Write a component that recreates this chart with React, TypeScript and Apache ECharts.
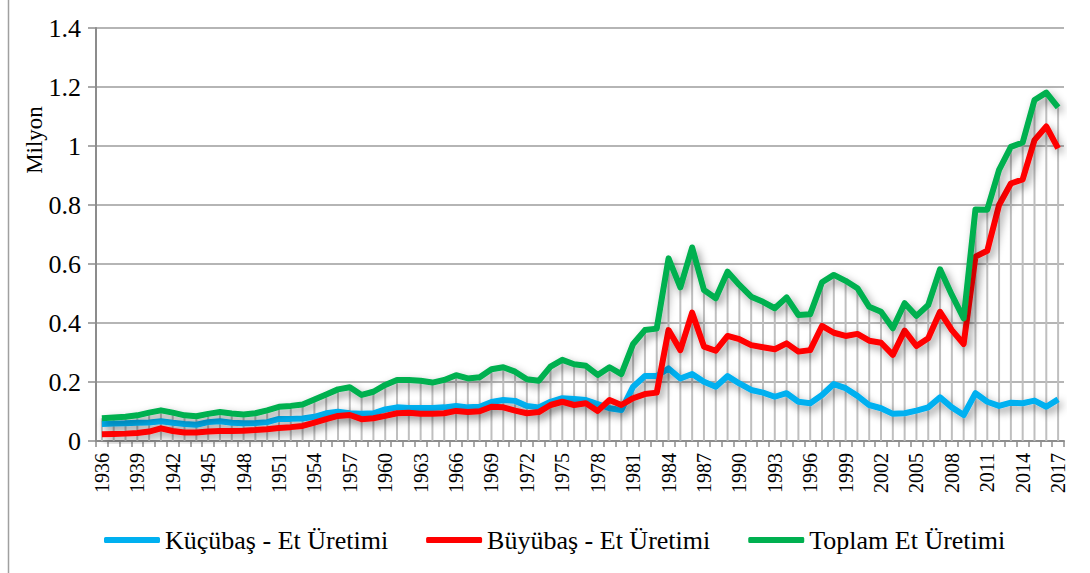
import React, { useEffect, useRef } from "react";
import * as echarts from "echarts";

const years: string[] = [];
for (let y = 1936; y <= 2017; y++) years.push(String(y));

const kucukbas = [
  0.058, 0.059, 0.060, 0.062, 0.063, 0.067, 0.062, 0.058, 0.055, 0.064,
  0.067, 0.062, 0.060, 0.061, 0.064, 0.075, 0.075, 0.076, 0.082, 0.094,
  0.099, 0.094, 0.092, 0.094, 0.107, 0.114, 0.112, 0.112, 0.112, 0.114,
  0.119, 0.114, 0.116, 0.132, 0.139, 0.136, 0.119, 0.114, 0.133, 0.145,
  0.142, 0.139, 0.125, 0.111, 0.105, 0.184, 0.220, 0.220, 0.246, 0.212,
  0.227, 0.201, 0.184, 0.220, 0.195, 0.173, 0.164, 0.150, 0.162, 0.133,
  0.128, 0.156, 0.193, 0.179, 0.153, 0.122, 0.111, 0.092, 0.094, 0.103,
  0.114, 0.148, 0.114, 0.088, 0.162, 0.133, 0.119, 0.130, 0.128, 0.137,
  0.116, 0.141,
];

const buyukbas = [
  0.023, 0.024, 0.025, 0.027, 0.032, 0.043, 0.034, 0.029, 0.029, 0.032,
  0.034, 0.034, 0.035, 0.037, 0.040, 0.044, 0.047, 0.051, 0.062, 0.074,
  0.085, 0.088, 0.074, 0.077, 0.085, 0.094, 0.096, 0.092, 0.092, 0.094,
  0.102, 0.098, 0.101, 0.116, 0.114, 0.103, 0.094, 0.098, 0.122, 0.133,
  0.122, 0.128, 0.102, 0.139, 0.122, 0.145, 0.159, 0.164, 0.376, 0.308,
  0.435, 0.320, 0.306, 0.356, 0.345, 0.325, 0.318, 0.311, 0.331, 0.303,
  0.308, 0.390, 0.367, 0.356, 0.363, 0.340, 0.333, 0.292, 0.374, 0.322,
  0.348, 0.438, 0.376, 0.329, 0.625, 0.645, 0.800, 0.873, 0.887, 1.020,
  1.066, 0.992,
];

const toplam = [
  0.077, 0.080, 0.082, 0.087, 0.096, 0.104, 0.096, 0.087, 0.084, 0.092,
  0.098, 0.093, 0.090, 0.094, 0.104, 0.116, 0.119, 0.124, 0.141, 0.158,
  0.175, 0.182, 0.156, 0.167, 0.190, 0.207, 0.207, 0.204, 0.198, 0.207,
  0.223, 0.212, 0.216, 0.243, 0.250, 0.235, 0.209, 0.204, 0.252, 0.275,
  0.260, 0.255, 0.224, 0.250, 0.227, 0.329, 0.376, 0.381, 0.619, 0.521,
  0.656, 0.512, 0.484, 0.574, 0.529, 0.489, 0.472, 0.450, 0.487, 0.427,
  0.430, 0.538, 0.563, 0.543, 0.518, 0.455, 0.438, 0.382, 0.467, 0.424,
  0.461, 0.582, 0.495, 0.416, 0.785, 0.784, 0.919, 0.997, 1.012, 1.156,
  1.181, 1.131,
];

const seriesNames = ["Küçübaş - Et Üretimi", "Büyübaş - Et Üretimi", "Toplam Et Üretimi"];
const seriesColors = ["#00B0F0", "#FF0000", "#00B050"];
const yAxisName = "Milyon";

const FONT = "Liberation Serif";

export default function App() {
  const ref = useRef<HTMLDivElement>(null);
  useEffect(() => {
    if (!ref.current) return;
    const chart = echarts.init(ref.current, undefined, { renderer: "svg" });
    const shadow = {
      shadowColor: "rgba(0,0,0,0.4)",
      shadowBlur: 8,
      shadowOffsetX: 3,
      shadowOffsetY: 4,
    };
    const dataSets = [kucukbas, buyukbas, toplam];
    chart.setOption({
      animation: false,
      backgroundColor: "#ffffff",
      grid: { left: 96, right: 26, top: 28, bottom: 132, containLabel: false },
      legend: {
        data: seriesNames,
        left: 99,
        top: 522,
        icon: "roundRect",
        itemWidth: 56,
        itemHeight: 6,
        itemGap: 38,
        textStyle: { fontFamily: FONT, fontSize: 26, color: "#000" },
      },
      xAxis: {
        type: "category",
        data: years,
        boundaryGap: true,
        axisLine: { show: true, lineStyle: { color: "#8c8c8c", width: 2 } },
        axisTick: { show: true, interval: 0, length: 6, lineStyle: { color: "#8c8c8c", width: 1.5 } },
        axisLabel: {
          interval: 2,
          rotate: 90,
          margin: 12,
          fontFamily: FONT,
          fontSize: 20,
          color: "#000",
        },
        splitLine: { show: false },
      },
      yAxis: {
        type: "value",
        min: 0,
        max: 1.4,
        interval: 0.2,
        axisLine: { show: true, lineStyle: { color: "#8c8c8c", width: 2 } },
        axisTick: { show: true, length: 8, lineStyle: { color: "#8c8c8c", width: 1.5 } },
        axisLabel: {
          margin: 15,
          fontFamily: FONT,
          fontSize: 26,
          color: "#000",
          formatter: (v: number) => String(Math.round(v * 10) / 10),
        },
        splitLine: { show: true, lineStyle: { color: "#9c9c9c", width: 1.5 } },
      },
      graphic: [
        {
          type: "line",
          shape: { x1: 8.5, y1: 0, x2: 8.5, y2: 573 },
          style: { stroke: "#a0a0a0", lineWidth: 1.5 },
        },
        {
          type: "text",
          x: 34,
          y: 140,
          rotation: Math.PI / 2,
          style: {
            text: yAxisName,
            fontFamily: FONT,
            fontSize: 23,
            fill: "#000",
            textAlign: "center",
            textVerticalAlign: "middle",
          },
        },
      ],
      series: [
        {
          name: "drop",
          type: "bar",
          data: toplam,
          barWidth: 2,
          itemStyle: { color: "#bfbfbf" },
          z: 1,
          silent: true,
        },
        ...seriesNames.map((name, i) => ({
          name,
          type: "line",
          data: dataSets[i],
          symbol: "none",
          z: 3 + i,
          itemStyle: { color: seriesColors[i] },
          lineStyle: { color: seriesColors[i], width: 6, join: "round", ...shadow },
        })),
      ],
    });
    return () => chart.dispose();
  }, []);
  return (
    <div
      ref={ref}
      style={{ position: "fixed", left: 0, top: 0, width: 1090, height: 573 }}
    />
  );
}
